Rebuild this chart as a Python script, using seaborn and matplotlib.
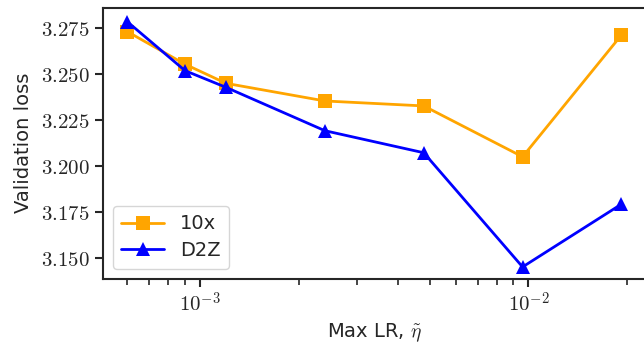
import numpy as np
import pandas as pd
import matplotlib
matplotlib.use("Agg")
import matplotlib.pyplot as plt
import matplotlib.ticker as mticker
import seaborn as sns

lrs = [6e-4, 9e-4, 1.2e-3, 2.4e-3, 4.8e-3, 9.6e-3, 1.92e-2]
loss_10x = [3.2732, 3.2554, 3.2450, 3.2354, 3.2327, 3.2050, 3.2713]
loss_d2z = [3.2786, 3.2519, 3.2428, 3.2192, 3.2072, 3.1450, 3.1792]
series_names = ["10x", "D2Z"]

df = pd.DataFrame({
    "lr": lrs * 2,
    "loss": loss_10x + loss_d2z,
    "schedule": [series_names[0]] * len(lrs) + [series_names[1]] * len(lrs),
})

sns.set_style("ticks")
plt.rcParams["font.family"] = ["DejaVu Sans"]
plt.rcParams["mathtext.fontset"] = "cm"

fig = plt.figure(figsize=(6.44, 3.43), dpi=100)
ax = fig.add_axes([103/644, 1 - 278.7/343, 543/644, (278.7 - 7.7)/343])

sns.lineplot(data=df, x="lr", y="loss", hue="schedule", style="schedule",
             markers={"10x": "s", "D2Z": "^"}, dashes=False,
             palette={"10x": "orange", "D2Z": "blue"},
             linewidth=2, markersize=10, markeredgewidth=0, ax=ax)

ax.set_xscale("log")
ax.set_xlim(10**-3.2957, 10**-1.6418)
ax.set_ylim(3.1386, 3.2862)
ax.set_yticks([3.150, 3.175, 3.200, 3.225, 3.250, 3.275])
ax.yaxis.set_major_formatter(mticker.FuncFormatter(lambda v, p: r"$%.3f$" % v))
ax.xaxis.set_major_formatter(mticker.FuncFormatter(
    lambda v, p: r"$10^{%d}$" % int(round(np.log10(v)))))

for s in ax.spines.values():
    s.set_linewidth(1.5)
    s.set_color("#262626")
ax.tick_params(axis="both", which="major", length=6, width=1.5, labelsize=15, colors="#262626")
ax.tick_params(axis="x", which="minor", length=4, width=1.2, colors="#262626")
for lab in ax.get_xticklabels() + ax.get_yticklabels():
    lab.set_color("#262626")

ax.set_xlabel(r"Max LR, $\tilde{\eta}$", fontsize=14, color="#262626", labelpad=4)
ax.set_ylabel("Validation loss", fontsize=14, color="#262626", labelpad=6)

leg = ax.legend(loc="lower left", fontsize=14, frameon=True, handlelength=2.2,
                borderpad=0.45, labelspacing=0.4, bbox_to_anchor=(0.0, 0.0))
leg.set_title(None)

fig.savefig("out.png", dpi=100)
